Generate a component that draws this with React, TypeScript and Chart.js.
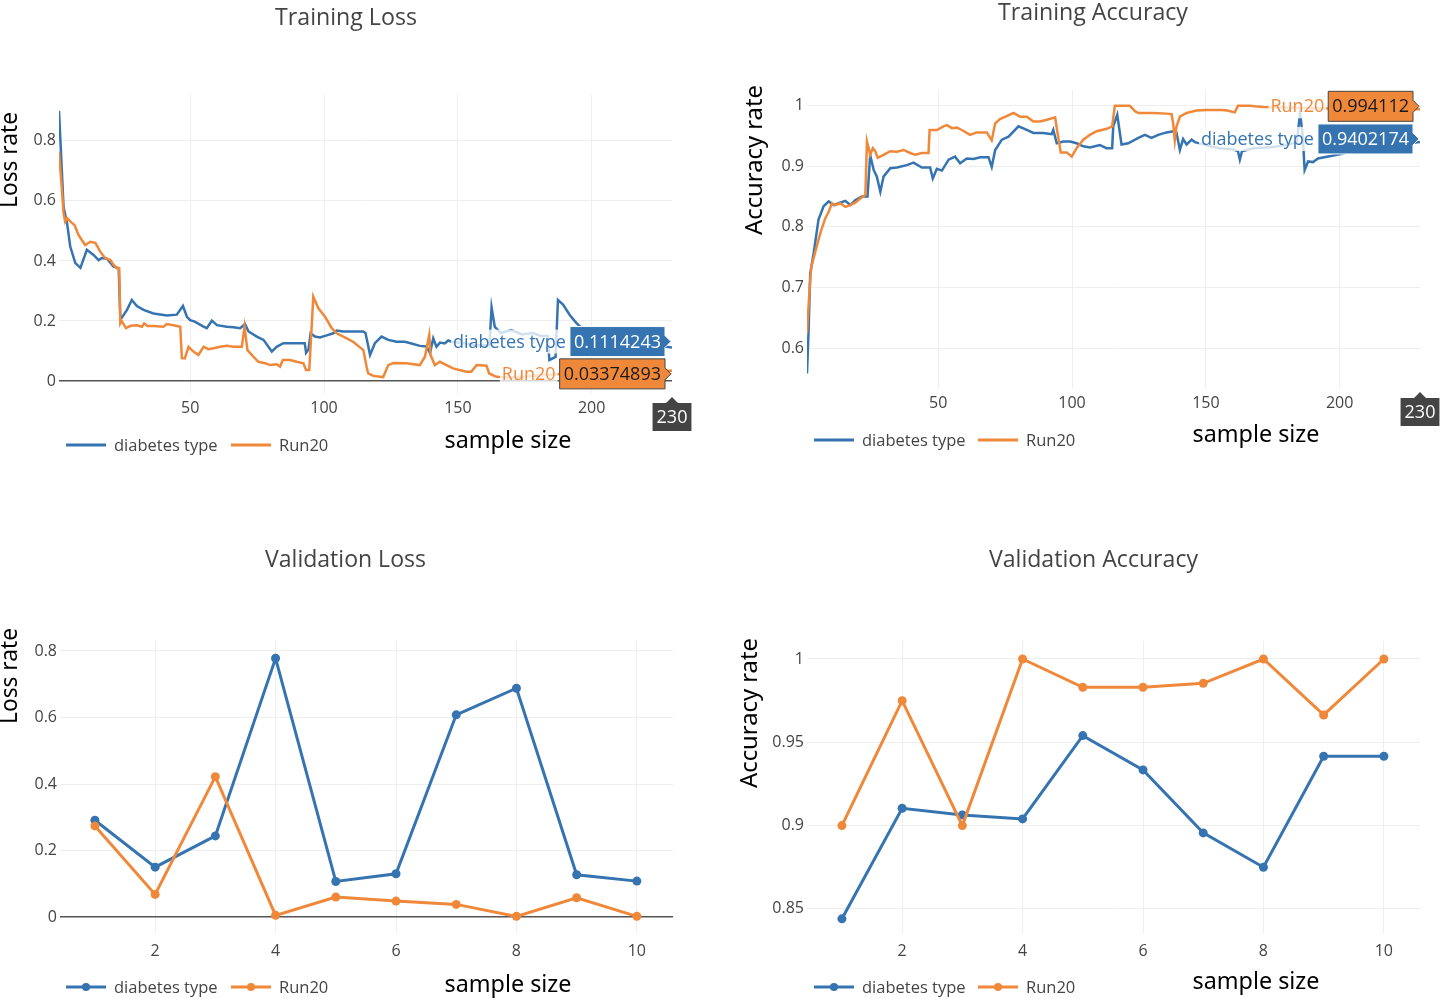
import React, { useEffect, useRef } from 'react';
import { Chart, registerables } from 'chart.js';

Chart.register(...registerables);

const BLUE = '#3574b0';
const ORANGE = '#f0883a';
const NAMES = ['diabetes type', 'Run20'];
const SANS = "'Open Sans', sans-serif";
const NOTE_FONT = "'Noto Sans', sans-serif";

// ---- Training Loss (sample, loss) ----
const TL_BLUE: [number, number][] = [
  [1, 0.9], [2.7, 0.58], [4, 0.527], [5.2, 0.448], [7.1, 0.393], [9, 0.377], [11.4, 0.437], [13.9, 0.42], [15.8, 0.403], [17, 0.41],
  [19, 0.407], [21.4, 0.381], [23.3, 0.376], [23.9, 0.214], [24.4, 0.21], [26.4, 0.237], [28.2, 0.27], [30.1, 0.25], [32.6, 0.237], [36.3, 0.225],
  [41.3, 0.218], [45, 0.221], [47.3, 0.25], [48.8, 0.214], [50, 0.203], [51.7, 0.198], [55, 0.181], [56.2, 0.176], [58.1, 0.201], [60, 0.186],
  [63.7, 0.181], [66.2, 0.179], [68.7, 0.176], [70.5, 0.19], [71.8, 0.165], [74.9, 0.148], [77.4, 0.137], [80.5, 0.098], [82.3, 0.114], [84.8, 0.126],
  [87.3, 0.126], [91, 0.126], [92.8, 0.126], [93.3, 0.094], [94.2, 0.105], [95, 0.159], [96.6, 0.148], [98.5, 0.145], [101, 0.152], [103.5, 0.159],
  [104.7, 0.168], [107.2, 0.165], [111, 0.165], [114.6, 0.165], [115.5, 0.16], [117.2, 0.087], [119, 0.126], [121.5, 0.148], [124, 0.137], [127.1, 0.131],
  [130.2, 0.131], [132.7, 0.125], [135.8, 0.117], [138.3, 0.115], [139.6, 0.093], [140.8, 0.142], [142, 0.114], [143.3, 0.128], [145.1, 0.125], [146.4, 0.135],
  [148, 0.13], [150, 0.128], [153, 0.125], [156, 0.12], [159, 0.118], [161.8, 0.12], [162.6, 0.245], [163.8, 0.18], [166, 0.16], [170, 0.17],
  [174, 0.155], [178, 0.16], [181, 0.15], [183.5, 0.15], [184.2, 0.07], [186.5, 0.08], [187.4, 0.27], [189.3, 0.255], [191.8, 0.22], [194.3, 0.193],
  [197, 0.17], [200, 0.16], [206, 0.14], [212, 0.13], [218, 0.125], [224, 0.118], [230, 0.1114243],
];
const TL_ORANGE: [number, number][] = [
  [1, 0.764], [2.1, 0.637], [2.7, 0.56], [3.3, 0.531], [4, 0.543], [5.9, 0.526], [6.8, 0.52], [8.3, 0.487], [9.5, 0.47], [10.8, 0.453],
  [12.7, 0.464], [14.6, 0.46], [16.4, 0.431], [18.3, 0.409], [20.2, 0.403], [21.4, 0.387], [22.6, 0.376], [23.5, 0.376], [23.9, 0.192], [24.4, 0.2],
  [26, 0.176], [27.7, 0.184], [30.1, 0.186], [32, 0.181], [32.8, 0.192], [34, 0.183], [36.3, 0.183], [40, 0.181], [41.3, 0.19], [43.8, 0.186],
  [46.3, 0.181], [46.9, 0.076], [48, 0.075], [49.4, 0.114], [51.2, 0.098], [53.1, 0.087], [55, 0.114], [56.9, 0.106], [58.7, 0.109], [61.2, 0.114],
  [63.7, 0.117], [66.2, 0.114], [69.3, 0.114], [70.3, 0.181], [71.4, 0.103], [73.6, 0.081], [75.5, 0.064], [78, 0.059], [79.9, 0.053], [82.3, 0.056],
  [83.6, 0.048], [84.6, 0.07], [87.3, 0.07], [89.8, 0.064], [92.3, 0.059], [93.3, 0.037], [94.5, 0.037], [96, 0.281], [97.9, 0.242], [100.4, 0.214],
  [102.9, 0.176], [104.7, 0.159], [108.5, 0.142], [111, 0.13], [114.7, 0.103], [115.9, 0.048], [116.5, 0.025], [118.4, 0.017], [122.1, 0.013], [124, 0.053],
  [125.9, 0.06], [130.8, 0.059], [135.8, 0.053], [137.7, 0.081], [139.3, 0.153], [139.8, 0.087], [141.4, 0.053], [143.3, 0.064], [148.2, 0.042], [153.2, 0.031],
  [155, 0.031], [157, 0.053], [160.7, 0.051], [161.7, 0.025], [164.4, 0.014], [170, 0.012], [180, 0.018], [190, 0.024], [200, 0.028], [210, 0.031],
  [220, 0.033], [230, 0.03374893],
];

// ---- Training Accuracy (sample, accuracy) ----
const TA_BLUE: [number, number][] = [
  [1, 0.558], [1.6, 0.63], [2.2, 0.723], [3.5, 0.757], [5.3, 0.812], [7.2, 0.834], [9.1, 0.842], [11, 0.836], [12.8, 0.839], [15.3, 0.843],
  [17.2, 0.836], [19, 0.844], [21.5, 0.85], [23.6, 0.85], [24.6, 0.919], [25.9, 0.894], [27.1, 0.883], [28.4, 0.858], [29.6, 0.883], [32.1, 0.897],
  [34.6, 0.898], [38.3, 0.902], [40.8, 0.906], [43.9, 0.898], [47, 0.898], [48, 0.88], [49.5, 0.896], [51.4, 0.893], [53.9, 0.911], [56.3, 0.916],
  [58.2, 0.905], [60.7, 0.913], [63.2, 0.912], [65.7, 0.915], [68.8, 0.915], [70, 0.899], [71.3, 0.927], [73.8, 0.944], [76.3, 0.949], [80, 0.966],
  [83.1, 0.96], [85.6, 0.955], [89.3, 0.955], [92.4, 0.953], [93, 0.96], [94.3, 0.938], [96.8, 0.941], [99.3, 0.941], [101.7, 0.938], [104.2, 0.933],
  [106.7, 0.931], [110.4, 0.935], [112.9, 0.93], [115, 0.93], [115.4, 0.966], [116.9, 0.985], [118.5, 0.936], [121, 0.938], [124.8, 0.947], [127.2, 0.952],
  [129.7, 0.947], [132.2, 0.952], [135.3, 0.956], [137.8, 0.958], [139, 0.956], [140.3, 0.927], [141.5, 0.945], [142.8, 0.936], [144.7, 0.944], [145.9, 0.94],
  [150, 0.935], [155, 0.93], [160, 0.928], [162, 0.925], [162.7, 0.911], [163.5, 0.925], [168, 0.93], [175, 0.932], [180, 0.935], [184, 0.94],
  [185.2, 0.988], [186.2, 0.95], [186.9, 0.894], [188.2, 0.908], [190, 0.907], [191.9, 0.913], [200, 0.92], [210, 0.93], [220, 0.935], [230, 0.9402174],
];
const TA_ORANGE: [number, number][] = [
  [1, 0.625], [2, 0.7], [2.6, 0.734], [4.1, 0.759], [6, 0.79], [7.8, 0.814], [9.1, 0.825], [10.3, 0.839], [11.5, 0.836], [13.4, 0.839],
  [15.3, 0.833], [17.2, 0.836], [19, 0.84], [20.9, 0.847], [22.8, 0.853], [23.4, 0.941], [24.6, 0.919], [25.6, 0.93], [26.5, 0.925], [27.4, 0.914],
  [29.6, 0.919], [32.1, 0.925], [34.6, 0.924], [37.1, 0.927], [39.6, 0.922], [41.4, 0.919], [43.9, 0.922], [46.4, 0.922], [46.8, 0.96], [49.5, 0.96],
  [52, 0.966], [53.3, 0.968], [55.1, 0.963], [57, 0.964], [58.8, 0.96], [61.9, 0.952], [64.4, 0.956], [68.2, 0.956], [69.4, 0.947], [70, 0.943],
  [71.3, 0.971], [73.1, 0.978], [75.6, 0.983], [78.1, 0.988], [80.6, 0.982], [83.1, 0.982], [85.6, 0.974], [88, 0.974], [90.6, 0.977], [93.7, 0.981],
  [94.3, 0.963], [95.8, 0.923], [98, 0.923], [99.9, 0.916], [101.7, 0.93], [104.2, 0.944], [106.7, 0.952], [109.2, 0.958], [113, 0.962], [115, 0.966],
  [116, 1], [121.6, 1], [123.5, 0.991], [124.8, 0.988], [130.3, 0.988], [135.3, 0.987], [137.2, 0.986], [137.8, 0.971], [138.4, 0.943], [139, 0.965],
  [140.3, 0.982], [142.8, 0.988], [146.5, 0.992], [150.3, 0.993], [156, 0.993], [158, 0.992], [160.8, 0.989], [162, 1], [166.4, 1], [168.3, 0.999],
  [171.4, 0.998], [180, 0.997], [190, 0.996], [200, 0.995], [215, 0.995], [230, 0.994112],
];

// ---- Validation (sample index 1..10) ----
const VAL_X = [1, 2, 3, 4, 5, 6, 7, 8, 9, 10];
const VL_BLUE = [0.291, 0.15, 0.244, 0.778, 0.107, 0.13, 0.608, 0.688, 0.127, 0.108];
const VL_ORANGE = [0.274, 0.068, 0.422, 0.005, 0.06, 0.048, 0.038, 0.002, 0.058, 0.002];
const VA_BLUE = [0.844, 0.9104, 0.9064, 0.904, 0.954, 0.9334, 0.8956, 0.875, 0.9416, 0.9416];
const VA_ORANGE = [0.9, 0.975, 0.9, 1, 0.983, 0.983, 0.9854, 1, 0.9664, 1];

// ---- Ticks ----
const TRAIN_X_TICKS = [50, 100, 150, 200];
const VAL_X_TICKS = [2, 4, 6, 8, 10];
const LOSS_Y_TICKS = [0, 0.2, 0.4, 0.6, 0.8];
const TRAIN_ACC_Y_TICKS = [0.6, 0.7, 0.8, 0.9, 1];
const VAL_ACC_Y_TICKS = [0.85, 0.9, 0.95, 1];
const HOVER_SAMPLE = 230;

const X_AXIS_H = 30;

type Txt = { text: string; x: number; y: number; w: number };
type Series = { name: string; color: string; data: [number, number][] };
type Panel = {
  key: string;
  box: { left: number; top: number; width: number; height: number };
  plot: { l: number; t: number; r: number; b: number };
  xMin: number; xMax: number; yMin: number; yMax: number;
  xTicks: number[]; yTicks: number[];
  xTickPad: number;
  series: Series[];
  markers: boolean;
  zeroLine: boolean;
  title: Txt; yTitle: Txt; xTitle: Txt;
  legendY: number; legendX: number[];
  hover?: { x: number; nudges: number[] };
};

const zip = (xs: number[], ys: number[]): [number, number][] => xs.map((x, i) => [x, ys[i]]);

const PANELS: Panel[] = [
  {
    key: 'tl',
    box: { left: 0, top: 0, width: 720, height: 470 },
    plot: { l: 59, t: 95, r: 672, b: 393 },
    xMin: 1, xMax: 230, yMin: -0.04, yMax: 0.953,
    xTicks: TRAIN_X_TICKS, yTicks: LOSS_Y_TICKS, xTickPad: 6,
    series: [
      { name: NAMES[0], color: BLUE, data: TL_BLUE },
      { name: NAMES[1], color: ORANGE, data: TL_ORANGE },
    ],
    markers: false, zeroLine: true,
    title: { text: 'Training Loss', x: 346, y: 18, w: 142 },
    yTitle: { text: 'Loss rate', x: 11, y: 160, w: 96 },
    xTitle: { text: 'sample size', x: 508, y: 441, w: 127 },
    legendY: 445, legendX: [66, 231],
    hover: { x: HOVER_SAMPLE, nudges: [-6, 3] },
  },
  {
    key: 'ta',
    box: { left: 720, top: 0, width: 720, height: 470 },
    plot: { l: 807, t: 90, r: 1420, b: 388 },
    xMin: 1, xMax: 230, yMin: 0.534, yMax: 1.026,
    xTicks: TRAIN_X_TICKS, yTicks: TRAIN_ACC_Y_TICKS, xTickPad: 6,
    series: [
      { name: NAMES[0], color: BLUE, data: TA_BLUE },
      { name: NAMES[1], color: ORANGE, data: TA_ORANGE },
    ],
    markers: false, zeroLine: false,
    title: { text: 'Training Accuracy', x: 1093, y: 13, w: 190 },
    yTitle: { text: 'Accuracy rate', x: 755, y: 160, w: 150 },
    xTitle: { text: 'sample size', x: 1256, y: 435, w: 127 },
    legendY: 440, legendX: [814, 978],
    hover: { x: HOVER_SAMPLE, nudges: [-3, -3] },
  },
  {
    key: 'vl',
    box: { left: 0, top: 500, width: 720, height: 499 },
    plot: { l: 60, t: 641, r: 673, b: 933 },
    xMin: 0.42, xMax: 10.6, yMin: -0.048, yMax: 0.83,
    xTicks: VAL_X_TICKS, yTicks: LOSS_Y_TICKS, xTickPad: 9,
    series: [
      { name: NAMES[0], color: BLUE, data: zip(VAL_X, VL_BLUE) },
      { name: NAMES[1], color: ORANGE, data: zip(VAL_X, VL_ORANGE) },
    ],
    markers: true, zeroLine: true,
    title: { text: 'Validation Loss', x: 345.5, y: 560, w: 161 },
    yTitle: { text: 'Loss rate', x: 11, y: 676, w: 96 },
    xTitle: { text: 'sample size', x: 508, y: 985, w: 127 },
    legendY: 987, legendX: [66, 231],
  },
  {
    key: 'va',
    box: { left: 720, top: 500, width: 720, height: 499 },
    plot: { l: 807, t: 641, r: 1420, b: 933 },
    xMin: 0.42, xMax: 10.6, yMin: 0.8355, yMax: 1.0108,
    xTicks: VAL_X_TICKS, yTicks: VAL_ACC_Y_TICKS, xTickPad: 9,
    series: [
      { name: NAMES[0], color: BLUE, data: zip(VAL_X, VA_BLUE) },
      { name: NAMES[1], color: ORANGE, data: zip(VAL_X, VA_ORANGE) },
    ],
    markers: true, zeroLine: false,
    title: { text: 'Validation Accuracy', x: 1093.5, y: 560, w: 209 },
    yTitle: { text: 'Accuracy rate', x: 750, y: 713, w: 150 },
    xTitle: { text: 'sample size', x: 1256, y: 982, w: 127 },
    legendY: 987, legendX: [814, 978],
  },
];

function drawFitText(ctx: CanvasRenderingContext2D, t: Txt, ox: number, oy: number, family: string, color: string, rotate: boolean) {
  ctx.save();
  ctx.font = `100px ${family}`;
  const size = (100 * t.w) / ctx.measureText(t.text).width;
  ctx.font = `${size.toFixed(2)}px ${family}`;
  ctx.translate(t.x - ox, t.y - oy);
  if (rotate) ctx.rotate(-Math.PI / 2);
  ctx.textAlign = 'center';
  ctx.textBaseline = 'middle';
  ctx.fillStyle = color;
  ctx.fillText(t.text, 0, 0);
  ctx.restore();
}

function drawValueLabel(
  ctx: CanvasRenderingContext2D, tipX: number, tipY: number, value: string, name: string,
  color: string, textColor: string, border: string,
) {
  ctx.save();
  ctx.font = `18px ${SANS}`;
  const tw = ctx.measureText(value).width;
  const padX = 4, h = 30, a = 6;
  const right = tipX - a;
  const left = right - tw - 2 * padX;
  ctx.beginPath();
  ctx.moveTo(tipX, tipY);
  ctx.lineTo(right, tipY - a);
  ctx.lineTo(right, tipY - h / 2);
  ctx.lineTo(left, tipY - h / 2);
  ctx.lineTo(left, tipY + h / 2);
  ctx.lineTo(right, tipY + h / 2);
  ctx.lineTo(right, tipY + a);
  ctx.closePath();
  ctx.fillStyle = color;
  ctx.fill();
  ctx.lineWidth = 1;
  ctx.strokeStyle = border;
  ctx.stroke();
  ctx.textBaseline = 'middle';
  ctx.textAlign = 'left';
  ctx.fillStyle = textColor;
  ctx.fillText(value, left + padX, tipY + 1);
  const nw = ctx.measureText(name).width;
  const nr = left - 4;
  ctx.fillStyle = 'rgba(255,255,255,0.78)';
  ctx.fillRect(nr - nw - 2, tipY - 12, nw + 4, 24);
  ctx.fillStyle = color;
  ctx.textAlign = 'right';
  ctx.fillText(name, nr, tipY + 1);
  ctx.restore();
}

function drawAxisLabel(ctx: CanvasRenderingContext2D, bx: number, by: number, text: string) {
  ctx.save();
  ctx.font = `18px ${SANS}`;
  const tw = ctx.measureText(text).width;
  const w = tw + 8, h = 28, a = 6;
  const top = by + a;
  ctx.beginPath();
  ctx.moveTo(bx, by);
  ctx.lineTo(bx + a, top);
  ctx.lineTo(bx + w / 2, top);
  ctx.lineTo(bx + w / 2, top + h);
  ctx.lineTo(bx - w / 2, top + h);
  ctx.lineTo(bx - w / 2, top);
  ctx.lineTo(bx - a, top);
  ctx.closePath();
  ctx.fillStyle = '#444';
  ctx.fill();
  ctx.fillStyle = '#fff';
  ctx.textAlign = 'center';
  ctx.textBaseline = 'middle';
  ctx.fillText(text, bx, top + h / 2 + 1);
  ctx.restore();
}

function makeOverlay(p: Panel) {
  return {
    id: 'overlay_' + p.key,
    afterDraw(chart: any) {
      const ctx = chart.ctx as CanvasRenderingContext2D;
      const ox = p.box.left, oy = p.box.top;
      drawFitText(ctx, p.title, ox, oy, SANS, '#444', false);
      drawFitText(ctx, p.yTitle, ox, oy, NOTE_FONT, '#000', true);
      drawFitText(ctx, p.xTitle, ox, oy, NOTE_FONT, '#000', false);

      // legend
      ctx.save();
      p.series.forEach((s, i) => {
        const x0 = p.legendX[i] - ox;
        const y = p.legendY - oy;
        ctx.strokeStyle = s.color;
        ctx.lineWidth = 3;
        ctx.beginPath();
        ctx.moveTo(x0, y);
        ctx.lineTo(x0 + 40, y);
        ctx.stroke();
        if (p.markers) {
          ctx.fillStyle = s.color;
          ctx.beginPath();
          ctx.arc(x0 + 20, y, 4, 0, Math.PI * 2);
          ctx.fill();
        }
        ctx.font = `16.5px ${SANS}`;
        ctx.fillStyle = '#444';
        ctx.textAlign = 'left';
        ctx.textBaseline = 'middle';
        ctx.fillText(s.name, x0 + 48, y + 1);
      });
      ctx.restore();

      if (p.hover) {
        const xs = chart.scales.x;
        const ys = chart.scales.y;
        const tipX = xs.getPixelForValue(p.hover.x) - 1;
        p.series.forEach((s, i) => {
          const last = s.data[s.data.length - 1][1];
          const tipY = ys.getPixelForValue(last) + p.hover!.nudges[i];
          const isBlue = s.color === BLUE;
          drawValueLabel(ctx, tipX, tipY, String(last), s.name, s.color, isBlue ? '#fff' : '#1a1a1a', isBlue ? '#fff' : '#444');
        });
        drawAxisLabel(ctx, xs.getPixelForValue(p.hover.x), chart.chartArea.bottom + 4, String(p.hover.x));
      }
    },
  };
}

function ChartPanel({ p }: { p: Panel }) {
  const ref = useRef<HTMLCanvasElement | null>(null);
  useEffect(() => {
    if (!ref.current) return;
    const tickFont = { family: SANS, size: 16 };
    const chart = new Chart(ref.current, {
      type: 'line',
      data: {
        datasets: p.series.map((s, i) => ({
          label: s.name,
          data: s.data.map(([x, y]) => ({ x, y })),
          borderColor: s.color,
          backgroundColor: s.color,
          borderWidth: p.markers ? 3 : 2.5,
          pointRadius: p.markers ? 4.5 : 0,
          pointHoverRadius: 0,
          pointBorderWidth: 0,
          tension: 0,
          fill: false,
          order: i === 0 ? 1 : 0,
        })),
      },
      options: {
        responsive: false,
        animation: false,
        devicePixelRatio: 1,
        events: [],
        layout: {
          padding: {
            top: p.plot.t - p.box.top,
            left: 0,
            right: p.box.left + p.box.width - p.plot.r,
            bottom: p.box.top + p.box.height - p.plot.b - X_AXIS_H,
          },
        },
        plugins: {
          legend: { display: false },
          tooltip: { enabled: false },
          title: { display: false },
        },
        scales: {
          x: {
            type: 'linear',
            min: p.xMin,
            max: p.xMax,
            afterBuildTicks: (s: any) => { s.ticks = p.xTicks.map((v) => ({ value: v })); },
            afterFit: (s: any) => { s.height = X_AXIS_H; },
            grid: { color: '#eeeeee', lineWidth: 1, drawTicks: false },
            border: { display: false },
            ticks: { color: '#444', font: tickFont, padding: p.xTickPad, autoSkip: false, maxRotation: 0, callback: (v: any) => String(v) },
          },
          y: {
            type: 'linear',
            min: p.yMin,
            max: p.yMax,
            afterBuildTicks: (s: any) => { s.ticks = p.yTicks.map((v) => ({ value: v })); },
            afterFit: (s: any) => { s.width = p.plot.l - p.box.left; },
            grid: {
              color: (c: any) => (p.zeroLine && c.tick && c.tick.value === 0 ? '#555' : '#eeeeee'),
              lineWidth: (c: any) => (p.zeroLine && c.tick && c.tick.value === 0 ? 1.5 : 1),
              drawTicks: false,
            },
            border: { display: false },
            ticks: { color: '#444', font: tickFont, padding: 3, autoSkip: false, callback: (v: any) => String(v) },
          },
        },
      },
      plugins: [makeOverlay(p)],
    } as any);
    return () => chart.destroy();
  }, [p]);
  return (
    <canvas
      ref={ref}
      width={p.box.width}
      height={p.box.height}
      style={{ position: 'absolute', left: p.box.left, top: p.box.top, width: p.box.width, height: p.box.height }}
    />
  );
}

export default function App() {
  return (
    <div style={{ position: 'absolute', left: 0, top: 0, width: 1440, height: 999, background: '#fff', overflow: 'hidden' }}>
      {PANELS.map((p) => (
        <ChartPanel key={p.key} p={p} />
      ))}
    </div>
  );
}
